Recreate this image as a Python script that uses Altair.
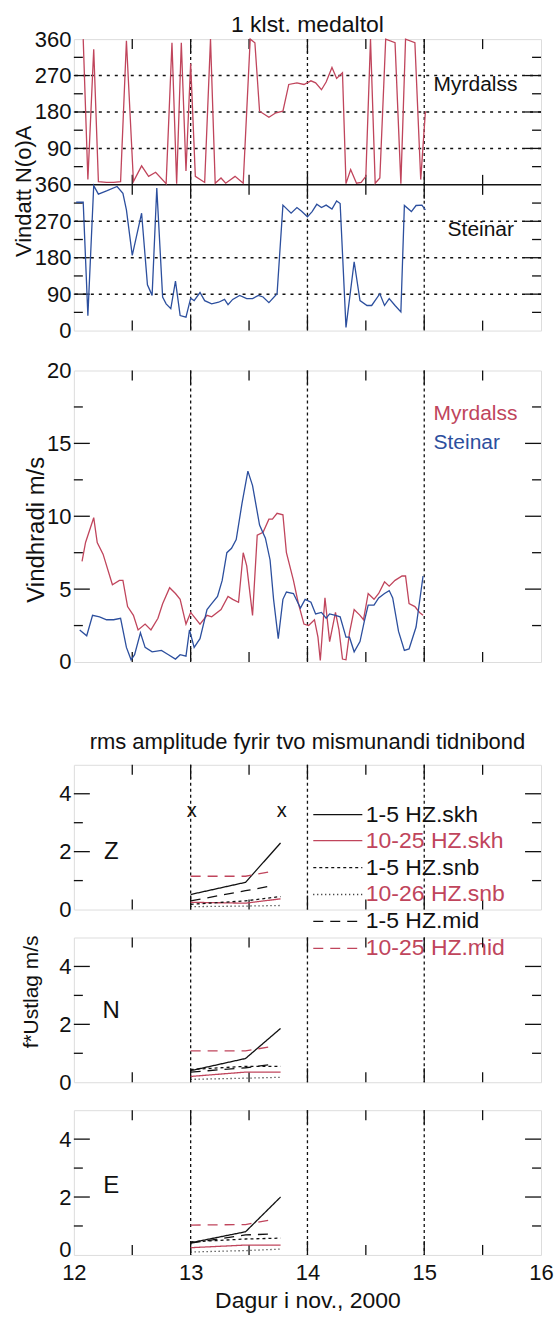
import altair as alt
import pandas as pd

FONT = "Liberation Sans"
W = 468
RED = "#c0455c"
BLUE = "#2c4f9e"
INK = "#111111"

# ---------------- data ----------------
myr_dir_t = [12.08, 12.12, 12.17, 12.21, 12.28, 12.34, 12.40, 12.45, 12.51, 12.58, 12.64, 12.70, 12.79, 12.84,
             12.88, 12.92, 12.96, 13.00, 13.04, 13.12, 13.17, 13.21, 13.26, 13.30, 13.38, 13.45, 13.51, 13.55,
             13.59, 13.67, 13.73, 13.79, 13.84, 13.91, 13.97, 14.03, 14.07, 14.12, 14.16, 14.21, 14.25, 14.30,
             14.33, 14.37, 14.42, 14.46, 14.50, 14.54, 14.58, 14.62, 14.67, 14.75, 14.80, 14.84, 14.92, 14.97, 15.01]
myr_dir_v = [360, 13, 335, 8, 6, 6, 8, 356, 8, 47, 21, 31, 3, 351,
             3, 351, 34, 300, 21, 6, 360, 4, 17, 4, 21, 4, 360, 351,
             182, 167, 178, 182, 248, 252, 248, 257, 252, 235, 254, 290, 263, 277,
             3, 38, 4, 6, 21, 360, 4, 17, 360, 351, 3, 360, 351, 13, 182]

ste_dir_t = [12.02, 12.08, 12.12, 12.17, 12.21, 12.28, 12.37, 12.42, 12.45, 12.50, 12.58, 12.63, 12.67, 12.71,
             12.76, 12.79, 12.83, 12.87, 12.91, 12.96, 13.00, 13.03, 13.08, 13.12, 13.18, 13.24, 13.29, 13.32,
             13.36, 13.42, 13.48, 13.53, 13.58, 13.62, 13.67, 13.74, 13.79, 13.86, 13.91, 13.95, 14.00, 14.04,
             14.08, 14.12, 14.16, 14.21, 14.25, 14.28, 14.33, 14.40, 14.45, 14.51, 14.55, 14.62, 14.66, 14.70,
             14.75, 14.80, 14.83, 14.89, 14.93, 14.98, 15.01]
ste_dir_v = [317, 317, 37, 358, 337, 345, 356, 339, 298, 186, 290, 113, 87, 352,
             83, 66, 54, 122, 37, 33, 80, 74, 94, 74, 66, 70, 77, 64,
             77, 87, 79, 79, 87, 83, 69, 91, 310, 290, 304, 295, 281, 294,
             312, 304, 310, 300, 320, 314, 8, 170, 74, 62, 62, 91, 62, 79,
             62, 46, 309, 294, 309, 310, 298]

myr_spd_t = [12.07, 12.10, 12.17, 12.20, 12.25, 12.33, 12.39, 12.42, 12.46, 12.51, 12.55, 12.61, 12.66, 12.72,
             12.76, 12.82, 12.87, 12.91, 12.96, 13.00, 13.08, 13.14, 13.18, 13.26, 13.32, 13.36, 13.41, 13.45,
             13.48, 13.53, 13.57, 13.62, 13.67, 13.70, 13.74, 13.79, 13.82, 13.88, 13.92, 13.97, 14.01, 14.06,
             14.09, 14.11, 14.15, 14.19, 14.24, 14.27, 14.30, 14.33, 14.36, 14.40, 14.45, 14.48, 14.52, 14.57,
             14.61, 14.66, 14.70, 14.75, 14.81, 14.84, 14.87, 14.92, 14.96, 14.99]
myr_spd_v = [6.9, 8.2, 9.9, 8.2, 7.4, 5.3, 5.6, 5.6, 3.8, 3.2, 2.2, 2.6, 2.2, 3.0,
             4.0, 5.1, 4.7, 4.3, 2.6, 3.4, 2.6, 3.2, 3.1, 3.6, 4.5, 4.3, 4.1, 7.5,
             6.6, 3.2, 8.7, 8.9, 9.8, 9.8, 10.2, 10.1, 7.5, 5.6, 4.1, 2.6, 2.5, 2.9,
             1.7, 0.1, 4.4, 1.4, 3.4, 2.2, 0.2, 0.15, 2.0, 3.6, 3.2, 2.9, 4.7, 4.3,
             4.7, 5.5, 5.2, 5.6, 5.9, 5.9, 4.0, 3.8, 3.4, 3.2]

ste_spd_t = [12.05, 12.11, 12.16, 12.22, 12.28, 12.34, 12.40, 12.45, 12.49, 12.52, 12.57, 12.61, 12.67, 12.75,
             12.81, 12.87, 12.91, 12.96, 12.99, 13.03, 13.08, 13.14, 13.18, 13.23, 13.27, 13.31, 13.35, 13.39,
             13.44, 13.49, 13.53, 13.59, 13.64, 13.68, 13.71, 13.75, 13.79, 13.82, 13.88, 13.94, 13.98, 14.03,
             14.07, 14.12, 14.16, 14.19, 14.24, 14.28, 14.33, 14.36, 14.40, 14.45, 14.49, 14.52, 14.57, 14.61,
             14.66, 14.70, 14.73, 14.78, 14.83, 14.87, 14.93, 14.99]
ste_spd_v = [2.2, 1.8, 3.2, 3.1, 2.9, 2.9, 3.0, 1.0, 0.15, 0.5, 2.0, 1.0, 0.7, 0.8,
             0.5, 0.2, 0.5, 0.4, 2.2, 1.0, 1.6, 3.6, 4.0, 4.5, 5.6, 7.5, 7.8, 8.4,
             10.9, 13.1, 12.1, 9.4, 8.5, 7.0, 4.3, 1.6, 4.3, 4.8, 4.7, 3.7, 4.3, 4.1,
             3.3, 3.4, 3.0, 3.3, 3.2, 3.1, 1.7, 1.7, 0.7, 1.4, 2.9, 3.9, 3.9, 4.4,
             4.7, 4.9, 4.4, 2.1, 0.8, 0.9, 2.4, 5.9]

series = ["1-5 HZ.skh", "10-25 HZ.skh", "1-5 HZ.snb", "10-26 HZ.snb", "1-5 HZ.mid", "10-25 HZ.mid"]
amp_t = [13.0, 13.47, 13.77]
amp_t_mid = [13.0, 13.47, 13.67]
Z_amp = {"1-5 HZ.skh": [0.52, 0.94, 2.3], "10-25 HZ.skh": [0.25, 0.22, 0.37],
         "1-5 HZ.snb": [0.18, 0.3, 0.45], "10-26 HZ.snb": [0.1, 0.12, 0.14],
         "1-5 HZ.mid": [0.3, 0.65, 0.8], "10-25 HZ.mid": [1.15, 1.15, 1.3]}
N_amp = {"1-5 HZ.skh": [0.4, 0.82, 1.86], "10-25 HZ.skh": [0.2, 0.35, 0.35],
         "1-5 HZ.snb": [0.44, 0.55, 0.55], "10-26 HZ.snb": [0.1, 0.14, 0.17],
         "1-5 HZ.mid": [0.35, 0.5, 0.6], "10-25 HZ.mid": [1.08, 1.08, 1.22]}
E_amp = {"1-5 HZ.skh": [0.42, 0.8, 2.0], "10-25 HZ.skh": [0.25, 0.34, 0.34],
         "1-5 HZ.snb": [0.45, 0.55, 0.58], "10-26 HZ.snb": [0.1, 0.15, 0.2],
         "1-5 HZ.mid": [0.41, 0.69, 0.72], "10-25 HZ.mid": [1.03, 1.05, 1.2]}

day_lines = [13, 14, 15]
x_minor = [12.5, 13.5, 14.5, 15.5]
legend_y = [3.28, 2.38, 1.45, 0.52, -0.41, -1.34]
x_marks = [13.01, 13.78]

# ---------------- styles ----------------
SER_STROKE = [INK, RED, INK, INK, INK, RED]
SER_TEXT = [INK, RED, INK, RED, INK, RED]
SER_DASH = [[1, 0], [1, 0], [3, 3], [1, 3], [10, 7], [10, 7]]

XS = alt.Scale(domain=[12, 16], nice=False, zero=False)
LAB = 22


def yaxis(values, title=None, tx=None, ty=None, expr=None, tsize=22, zero_up=False):
    kw = dict(values=values, ticks=False, domain=False, grid=False, labelFont=FONT, labelFontSize=LAB,
              labelColor=INK, labelPadding=3, titleFont=FONT, titleFontSize=tsize, titleFontWeight="normal",
              titleColor=INK)
    if expr:
        kw["labelExpr"] = expr
    if zero_up:
        kw["labelOffset"] = {"condition": {"test": "datum.value == 0", "value": -5}, "value": 0}
    if title:
        kw.update(title=title, titleX=tx, titleY=ty, titleBaseline="middle", titleAlign="center")
    else:
        kw["title"] = ""
    return alt.Axis(**kw)


def frame_layers(h, xenc, yenc, y_major, y_minor):
    layers = [alt.Chart(pd.DataFrame({"x": day_lines})).mark_rule(color=INK, strokeWidth=1.3, strokeDash=[3, 3])
              .encode(x=xenc)]
    for vals, L in ((day_lines, 14), (x_minor, 10)):
        df = pd.DataFrame({"x": vals})
        for y0, y1 in ((0, L), (h, h - L)):
            layers.append(alt.Chart(df).mark_rule(color=INK, strokeWidth=1.3)
                          .encode(x=xenc, y=alt.value(y0), y2=alt.value(y1)))
    for vals, L in ((y_major, 16), (y_minor, 9)):
        df = pd.DataFrame({"y": vals})
        for x0, x1 in ((0, L), (W, W - L)):
            layers.append(alt.Chart(df).mark_rule(color=INK, strokeWidth=1.3)
                          .encode(y=yenc, x=alt.value(x0), x2=alt.value(x1)))
    return layers


def title(txt, size, off):
    return alt.TitleParams(txt, font=FONT, fontSize=size, fontWeight="normal", color=INK, anchor="middle",
                           offset=off, frame="group")


STATION_COLOR = alt.Color("s:N", scale=alt.Scale(domain=["Myrdalss", "Steinar"], range=[RED, BLUE]), legend=None)
XN = alt.X("x:Q", scale=XS, axis=None)

# ---------------- direction panel ----------------
H_DIR = 292
YDIR = alt.Y("y:Q", scale=alt.Scale(domain=[0, 720], nice=False, zero=False),
             axis=yaxis([0, 90, 180, 270, 360, 450, 540, 630, 720], "Vindatt N(o)A", -50, 152,
                        "datum.value > 360 ? datum.value - 360 : datum.value", tsize=22))
dir_df = pd.DataFrame({
    "x": myr_dir_t + ste_dir_t,
    "y": [v + 360 for v in myr_dir_v] + ste_dir_v,
    "s": ["Myrdalss"] * len(myr_dir_t) + ["Steinar"] * len(ste_dir_t),
})
dir_layers = frame_layers(H_DIR, XN, YDIR, [90, 180, 270, 450, 540, 630], [45, 135, 225, 315, 405, 495, 585, 675])
dir_layers.append(alt.Chart(pd.DataFrame({"y": [90, 180, 270, 450, 540, 630]}))
                  .mark_rule(color=INK, strokeWidth=1.5, strokeDash=[3, 5]).encode(y=YDIR))
dir_layers.append(alt.Chart(pd.DataFrame({"y": [360]})).mark_rule(color=INK, strokeWidth=1.5).encode(y=YDIR))
for vals, L in ((day_lines, 14), (x_minor, 10)):
    for d in (L, -L):
        dir_layers.append(alt.Chart(pd.DataFrame({"x": vals})).mark_rule(color=INK, strokeWidth=1.3)
                          .encode(x=XN, y=alt.value(H_DIR / 2), y2=alt.value(H_DIR / 2 + d)))
dir_layers.append(alt.Chart(dir_df).mark_line(strokeWidth=1.3).encode(x=XN, y=YDIR, color=STATION_COLOR, detail="s:N"))
dir_layers.append(alt.Chart(pd.DataFrame({"x": [15.08, 15.2], "y": [246 + 360, 248], "t": ["Myrdalss", "Steinar"]}))
                  .mark_text(align="left", baseline="middle", font=FONT, fontSize=21, color=INK)
                  .encode(x=XN, y=YDIR, text="t:N"))
dir_chart = alt.layer(*dir_layers).properties(width=W, height=H_DIR, title=title("1 klst. medaltol", 23, -9))

# ---------------- wind speed panel ----------------
H_W = 292
YW = alt.Y("y:Q", scale=alt.Scale(domain=[0, 20], nice=False, zero=False),
           axis=yaxis([0, 5, 10, 15, 20], "Vindhradi m/s", -37, 159, tsize=24))
spd_df = pd.DataFrame({
    "x": myr_spd_t + ste_spd_t,
    "y": myr_spd_v + ste_spd_v,
    "s": ["Myrdalss"] * len(myr_spd_t) + ["Steinar"] * len(ste_spd_t),
})
w_layers = frame_layers(H_W, XN, YW, [5, 10, 15], [2.5, 7.5, 12.5, 17.5])
w_layers.append(alt.Chart(spd_df).mark_line(strokeWidth=1.3).encode(x=XN, y=YW, color=STATION_COLOR, detail="s:N"))
w_layers.append(alt.Chart(pd.DataFrame({"x": [15.08, 15.08], "y": [17.0, 15.06], "s": ["Myrdalss", "Steinar"]}))
                .mark_text(align="left", baseline="middle", font=FONT, fontSize=21)
                .encode(x=XN, y=YW, text="s:N", color=STATION_COLOR))
wind_chart = alt.layer(*w_layers).properties(width=W, height=H_W)

# ---------------- amplitude panels ----------------
H_A = 145
XAX = alt.Axis(values=[12, 13, 14, 15, 16], format="d", ticks=False, domain=False, grid=False, labelFlush=False,
               labelFont=FONT, labelFontSize=LAB, labelColor=INK, labelPadding=8, title="Dagur i nov., 2000",
               titleFont=FONT, titleFontSize=23, titleFontWeight="normal", titleColor=INK, titlePadding=6)
STROKE = alt.Stroke("s:N", scale=alt.Scale(domain=series, range=SER_STROKE), legend=None)
DASH = alt.StrokeDash("s:N", scale=alt.Scale(domain=series, range=SER_DASH), legend=None)
TEXTFILL = alt.Fill("s:N", scale=alt.Scale(domain=series, range=SER_TEXT), legend=None)


def amp_panel(comp, vals, lab_y, xaxis=None, ytitle=None, legend=False, ttl=None, zero_up=False):
    xenc = alt.X("x:Q", scale=XS, axis=xaxis)
    if ytitle:
        ax = yaxis([0, 2, 4], ytitle, -42, 54, tsize=21)
    else:
        ax = yaxis([0, 2, 4], zero_up=zero_up)
    yenc = alt.Y("y:Q", scale=alt.Scale(domain=[0, 5], nice=False, zero=False), axis=ax)
    rows = []
    for s in series:
        ts = amp_t_mid if s.endswith("mid") else amp_t
        for t, v in zip(ts, vals[s]):
            rows.append({"x": t, "y": v, "s": s})
    df = pd.DataFrame(rows)
    layers = frame_layers(H_A, xenc, yenc, [2, 4], [1, 3])
    layers.append(alt.Chart(df).mark_line(strokeWidth=1.3).encode(x=xenc, y=yenc, stroke=STROKE, strokeDash=DASH,
                                                                   detail="s:N"))
    layers.append(alt.Chart(pd.DataFrame({"x": [12.32], "y": [lab_y], "t": [comp]}))
                  .mark_text(align="center", baseline="middle", font=FONT, fontSize=24, color=INK)
                  .encode(x=xenc, y=yenc, text="t:N"))
    if legend:
        leg = pd.DataFrame({"x": [14.05] * 6, "x2": [14.47] * 6, "y": legend_y, "s": series})
        layers.append(alt.Chart(leg).mark_rule(strokeWidth=1.3)
                      .encode(x=xenc, x2="x2:Q", y=yenc, stroke=STROKE, strokeDash=DASH))
        leg_t = pd.DataFrame({"x": [14.50] * 6, "y": legend_y, "s": series})
        layers.append(alt.Chart(leg_t).mark_text(align="left", baseline="middle", font=FONT, fontSize=23)
                      .encode(x=xenc, y=yenc, text="s:N", fill=TEXTFILL))
        layers.append(alt.Chart(pd.DataFrame({"x": x_marks, "y": [3.4, 3.4], "t": ["x", "x"]}))
                      .mark_text(align="center", baseline="middle", font=FONT, fontSize=20, color=INK)
                      .encode(x=xenc, y=yenc, text="t:N"))
    props = dict(width=W, height=H_A)
    if ttl:
        props["title"] = title(ttl, 22, 10)
    return alt.layer(*layers).properties(**props)


z_chart = amp_panel("Z", Z_amp, 1.98, legend=True, ttl="rms amplitude fyrir tvo mismunandi tidnibond")
n_chart = amp_panel("N", N_amp, 2.46, ytitle="f*Ustlag m/s")
e_chart = amp_panel("E", E_amp, 2.38, xaxis=XAX, zero_up=True)


def spacer(h):
    return (alt.Chart(pd.DataFrame({"x": [12.0]})).mark_point(opacity=0)
            .encode(x=alt.X("x:Q", scale=XS, axis=None), y=alt.Y("x:Q", axis=None))
            .properties(width=W, height=h, view=alt.ViewBackground(stroke="transparent")))


chart = (alt.vconcat(dir_chart, spacer(40), wind_chart, spacer(103), z_chart, spacer(28), n_chart, spacer(28),
                     e_chart, spacing=0, bounds="flush")
         .properties(padding={"left": 12, "top": 12, "right": 0, "bottom": 2}, background="white")
         .configure_view(stroke=INK, strokeWidth=1.5)
         .configure(font=FONT))

chart.save("out.html", embed_options={"renderer": "svg", "actions": False})
